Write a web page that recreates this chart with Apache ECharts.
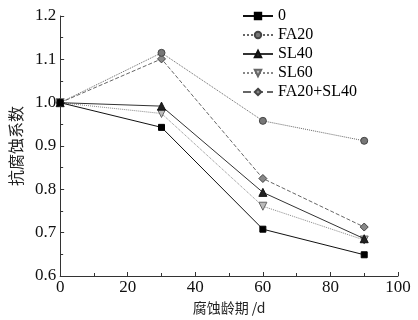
<!DOCTYPE html>
<html><head><meta charset="utf-8">
<script src="https://cdn.jsdelivr.net/npm/echarts@6/dist/echarts.min.js"></script>
<style>html,body{margin:0;padding:0;background:#fff}#c{width:418px;height:320px}</style>
</head><body><div id="c"></div>
<script>
const days = [0, 30, 60, 90];
const seriesNames = ['0', 'FA20', 'SL40', 'SL60', 'FA20+SL40'];
const s0 = [1.0, 0.943, 0.708, 0.649];
const sFA20 = [1.0, 1.115, 0.958, 0.912];
const sSL40 = [1.0, 0.992, 0.793, 0.686];
const sSL60 = [1.0, 0.975, 0.761, 0.683];
const sFA20SL40 = [1.0, 1.101, 0.825, 0.713];
const yTicks = [0.6, 0.7, 0.8, 0.9, 1.0, 1.1, 1.2];
const xTicks = [0, 20, 40, 60, 80, 100];

const serif = '"Liberation Serif","DejaVu Serif",serif';
function pairs(v){ return days.map((d,i)=>[d, v[i]]); }
const styles = [
  {sym:'rect', size:6, color:'#000', line:'solid', lc:'#111', fill:'#000'},
  {sym:'circle', size:7, color:'#444', line:'dotted', lc:'#666', fill:'#777'},
  {sym:'triangle', size:8, color:'#111', line:'solid', lc:'#333', fill:'#222'},
  {sym:'triangle', size:8, color:'#666', line:'dotted', lc:'#888', fill:'#bbb', rot:180},
  {sym:'diamond', size:8, color:'#444', line:'dashed', lc:'#666', fill:'#888'}
];
const data = [s0, sFA20, sSL40, sSL60, sFA20SL40];
const chart = echarts.init(document.getElementById('c'), null, {renderer:'canvas'});
chart.setOption({
  animation:false,
  backgroundColor:'#fff',
  grid:{left:47, right:20, top:16, bottom:43, containLabel:false},
  legend:{
    orient:'vertical', left:242, top:8, padding:0, itemGap:3, itemWidth:30, itemHeight:8,
    textStyle:{fontFamily:serif, fontSize:16, color:'#000'},
    data: seriesNames
  },
  xAxis:{
    type:'value', min:0, max:100, interval:20,
    name:'腐蚀龄期 /d', nameLocation:'middle', nameGap:25,
    nameTextStyle:{fontFamily:'"Noto Sans CJK SC",'+serif, fontSize:14, color:'#222'},
    axisLine:{lineStyle:{color:'#333', width:1}},
    axisTick:{inside:true, length:4, lineStyle:{color:'#333'}},
    minorTick:{show:true, splitNumber:2, length:3, lineStyle:{color:'#333'}},
    axisLabel:{fontFamily:serif, fontSize:17, color:'#111', margin:3,
      formatter:v=>xTicks.includes(v)?String(v):''},
    splitLine:{show:false}
  },
  yAxis:{
    type:'value', min:0.6, max:1.2, interval:0.1,
    name:'抗腐蚀系数', nameLocation:'middle', nameGap:31, nameRotate:90,
    nameTextStyle:{fontFamily:'"Noto Sans CJK SC",'+serif, fontSize:16, color:'#222'},
    axisLine:{show:true, lineStyle:{color:'#333', width:1}},
    axisTick:{show:true, inside:true, length:4, lineStyle:{color:'#333'}},
    minorTick:{show:true, splitNumber:2, length:3, lineStyle:{color:'#333'}},
    axisLabel:{fontFamily:serif, fontSize:17, color:'#111', margin:4,
      formatter:v=>{const t=yTicks.find(x=>Math.abs(x-v)<1e-6);return t!==undefined?t.toFixed(1):'';}},
    splitLine:{show:false}
  },
  series: seriesNames.map((n,i)=>({
    name:n, type:'line', data:pairs(data[i]),
    symbol:styles[i].sym, symbolSize:styles[i].size, symbolRotate:styles[i].rot||0,
    showAllSymbol:true,
    lineStyle:{color:styles[i].lc, width:1, type:styles[i].line},
    itemStyle:{color:styles[i].fill, borderColor:styles[i].color, borderWidth:1, opacity:1},
    z: 10-i
  }))
});
</script></body></html>
